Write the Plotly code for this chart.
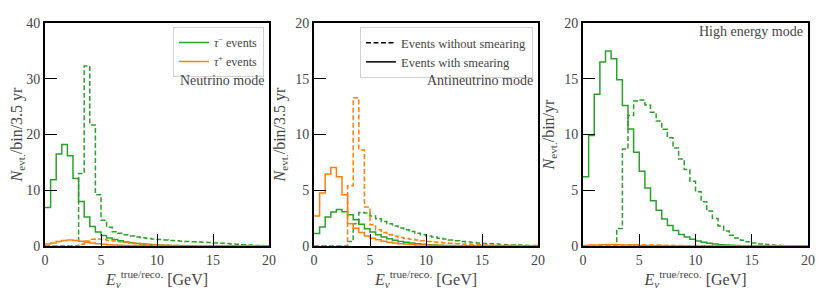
import numpy as np
import plotly.graph_objects as go

# ---------------- data (0.5 GeV bins, 0 - 20 GeV) ----------------
BIN_WIDTH = 0.5
E_MIN, E_MAX = 0.0, 20.0

# Neutrino mode (N / bin / 3.5 yr)
taum_smear_nu = [6.9, 11.9, 16.5, 18.2, 16.2, 12.1, 8.0, 5.2, 3.5, 2.5,
                 1.9, 1.45, 1.15, 0.92, 0.72, 0.57, 0.45, 0.35, 0.27, 0.21,
                 0.16, 0.12, 0.09, 0.07, 0.05, 0.04, 0.03, 0.02, 0.02, 0.01,
                 0.01, 0.01, 0.0, 0.0, 0.0, 0.0, 0.0, 0.0, 0.0, 0.0]
taum_true_nu = [0.0, 0.0, 0.0, 0.0, 0.0, 0.0, 13.0, 32.3, 21.7, 9.2,
                4.6, 3.35, 2.57, 2.27, 2.0, 1.8, 1.62, 1.48, 1.36, 1.25,
                1.15, 1.06, 0.98, 0.92, 0.86, 0.8, 0.76, 0.72, 0.68, 0.62,
                0.56, 0.5, 0.43, 0.36, 0.3, 0.23, 0.17, 0.11, 0.07, 0.04]
taup_smear_nu = [0.35, 0.55, 0.8, 1.0, 1.08, 1.0, 0.85, 0.68, 0.52, 0.4,
                 0.3, 0.23, 0.17, 0.13, 0.1, 0.07, 0.05, 0.04, 0.03, 0.02,
                 0.02, 0.01, 0.01, 0.01, 0.0, 0.0, 0.0, 0.0, 0.0, 0.0,
                 0.0, 0.0, 0.0, 0.0, 0.0, 0.0, 0.0, 0.0, 0.0, 0.0]
taup_true_nu = [0.0, 0.0, 0.0, 0.0, 0.0, 0.0, 0.3, 0.9, 1.2, 1.25,
                1.15, 1.0, 0.88, 0.76, 0.65, 0.55, 0.46, 0.38, 0.31, 0.25,
                0.2, 0.16, 0.13, 0.1, 0.08, 0.06, 0.05, 0.04, 0.03, 0.02,
                0.02, 0.01, 0.01, 0.01, 0.0, 0.0, 0.0, 0.0, 0.0, 0.0]

# Antineutrino mode (N / bin / 3.5 yr)
taup_smear_anu = [2.7, 4.75, 6.45, 7.05, 6.2, 4.6, 2.0, 1.6, 1.2, 0.9,
                  0.7, 0.55, 0.43, 0.34, 0.27, 0.21, 0.17, 0.13, 0.1, 0.08,
                  0.06, 0.05, 0.04, 0.03, 0.02, 0.02, 0.01, 0.01, 0.01, 0.01,
                  0.0, 0.0, 0.0, 0.0, 0.0, 0.0, 0.0, 0.0, 0.0, 0.0]
taup_true_anu = [0.0, 0.0, 0.0, 0.0, 0.0, 0.0, 5.4, 13.3, 8.6, 3.5,
                 1.9, 1.45, 1.2, 1.0, 0.88, 0.77, 0.68, 0.6, 0.53, 0.47,
                 0.41, 0.36, 0.32, 0.28, 0.24, 0.21, 0.18, 0.15, 0.13, 0.11,
                 0.09, 0.07, 0.06, 0.05, 0.04, 0.03, 0.02, 0.02, 0.01, 0.01]
taum_smear_anu = [1.13, 1.7, 2.6, 3.05, 3.27, 3.07, 2.8, 2.35, 1.95, 1.55,
                  1.25, 1.0, 0.8, 0.64, 0.51, 0.41, 0.33, 0.26, 0.2, 0.16,
                  0.12, 0.09, 0.07, 0.05, 0.04, 0.03, 0.02, 0.02, 0.01, 0.01,
                  0.0, 0.0, 0.0, 0.0, 0.0, 0.0, 0.0, 0.0, 0.0, 0.0]
taum_true_anu = [0.0, 0.0, 0.0, 0.0, 0.0, 0.0, 0.4, 2.0, 3.0, 2.95,
                 2.7, 2.45, 2.2, 2.0, 1.8, 1.62, 1.45, 1.3, 1.15, 1.02,
                 0.9, 0.8, 0.7, 0.62, 0.54, 0.47, 0.41, 0.36, 0.31, 0.27,
                 0.23, 0.2, 0.17, 0.14, 0.12, 0.1, 0.08, 0.06, 0.05, 0.04]

# High energy mode (N / bin / yr)
taum_smear_he = [6.2, 9.9, 13.6, 16.5, 17.5, 16.8, 14.9, 12.6, 10.5, 8.4,
                 6.7, 5.2, 4.05, 3.2, 2.43, 1.83, 1.4, 1.03, 0.8, 0.6,
                 0.45, 0.33, 0.24, 0.17, 0.12, 0.08, 0.06, 0.04, 0.03, 0.02,
                 0.01, 0.01, 0.0, 0.0, 0.0, 0.0, 0.0, 0.0, 0.0, 0.0]
taum_true_he = [0.0, 0.0, 0.0, 0.0, 0.0, 0.0, 1.58, 8.7, 11.7, 13.0,
                13.1, 12.65, 12.0, 11.2, 10.47, 9.7, 8.8, 7.8, 6.85, 5.8,
                4.87, 3.97, 3.13, 2.47, 1.79, 1.34, 0.97, 0.72, 0.52, 0.38,
                0.27, 0.19, 0.13, 0.09, 0.06, 0.04, 0.03, 0.02, 0.01, 0.01]
taup_smear_he = [0.05, 0.08, 0.1, 0.12, 0.13, 0.13, 0.12, 0.1, 0.08, 0.06,
                 0.05, 0.04, 0.03, 0.02, 0.02, 0.01, 0.0, 0.0, 0.0, 0.0,
                 0.0, 0.0, 0.0, 0.0, 0.0, 0.0, 0.0, 0.0, 0.0, 0.0,
                 0.0, 0.0, 0.0, 0.0, 0.0, 0.0, 0.0, 0.0, 0.0, 0.0]
taup_true_he = [0.0, 0.0, 0.0, 0.0, 0.0, 0.0, 0.02, 0.08, 0.1, 0.11,
                0.11, 0.1, 0.09, 0.08, 0.07, 0.06, 0.05, 0.04, 0.03, 0.02,
                0.02, 0.01, 0.01, 0.0, 0.0, 0.0, 0.0, 0.0, 0.0, 0.0,
                0.0, 0.0, 0.0, 0.0, 0.0, 0.0, 0.0, 0.0, 0.0, 0.0]

panel_titles = ["Neutrino mode", "Antineutrino mode", "High energy mode"]
y_titles = ["<i>N</i><sub>evt.</sub>/bin/3.5 yr",
            "<i>N</i><sub>evt.</sub>/bin/3.5 yr",
            "<i>N</i><sub>evt.</sub>/bin/yr"]
y_max = [40, 20, 20]
y_dtick = [10, 5, 5]
x_title = "<i>E</i><sub><i>ν</i></sub><sup>true/reco.</sup> [GeV]"

GREEN = "#2ca02c"
ORANGE = "#ff7f0e"
DASH = "5px,2.5px"
LW = 1.5
FONT = "Liberation Serif, DejaVu Serif, serif"
TXT = "#444444"

edges = np.arange(E_MIN, E_MAX + BIN_WIDTH / 2, BIN_WIDTH)


def step_y(vals):
    return list(vals) + [vals[-1]]


fig = go.Figure()

panels = [
    (taum_smear_nu, taum_true_nu, taup_smear_nu, taup_true_nu),
    (taum_smear_anu, taum_true_anu, taup_smear_anu, taup_true_anu),
    (taum_smear_he, taum_true_he, taup_smear_he, taup_true_he),
]

for i, (gm_s, gm_t, op_s, op_t) in enumerate(panels):
    xa = "x" if i == 0 else f"x{i+1}"
    ya = "y" if i == 0 else f"y{i+1}"
    fig.add_trace(go.Scatter(x=edges, y=step_y(gm_t), mode="lines", line_shape="hv",
                             line=dict(color=GREEN, width=LW, dash=DASH),
                             xaxis=xa, yaxis=ya, showlegend=False, hoverinfo="skip"))
    fig.add_trace(go.Scatter(x=edges, y=step_y(gm_s), mode="lines", line_shape="hv",
                             line=dict(color=GREEN, width=LW),
                             xaxis=xa, yaxis=ya, name="<i>τ</i><sup>−</sup> events",
                             showlegend=(i == 0), legend="legend", hoverinfo="skip"))
    fig.add_trace(go.Scatter(x=edges, y=step_y(op_t), mode="lines", line_shape="hv",
                             line=dict(color=ORANGE, width=LW, dash=DASH),
                             xaxis=xa, yaxis=ya, showlegend=False, hoverinfo="skip"))
    fig.add_trace(go.Scatter(x=edges, y=step_y(op_s), mode="lines", line_shape="hv",
                             line=dict(color=ORANGE, width=LW),
                             xaxis=xa, yaxis=ya, name="<i>τ</i><sup>+</sup> events",
                             showlegend=(i == 0), legend="legend", hoverinfo="skip"))

# legend-only entries for panel 2
fig.add_trace(go.Scatter(x=[None], y=[None], mode="lines",
                         line=dict(color="black", width=LW, dash=DASH),
                         name="Events without smearing", xaxis="x2", yaxis="y2",
                         legend="legend2"))
fig.add_trace(go.Scatter(x=[None], y=[None], mode="lines",
                         line=dict(color="black", width=LW),
                         name="Events with smearing", xaxis="x2", yaxis="y2",
                         legend="legend2"))

# page has an 8px body margin: figure size & positions compensate for it
OFF = 8
W, H = 830 - OFF, 292 - OFF


def px(xp):
    return (xp - OFF) / W


def py(yp):
    return 1 - (yp - OFF) / H


x_doms = [(45, 269), (314, 538), (583, 808)]
y_dom = (py(246), py(23))

axis_common = dict(showline=True, linecolor="black", linewidth=2, mirror=True,
                   ticks="inside", ticklen=12, tickwidth=1.4, tickcolor="black",
                   showgrid=False, zeroline=False, automargin=False,
                   tickfont=dict(family=FONT, size=14, color=TXT))

layout = dict(width=W, height=H, margin=dict(l=0, r=0, t=0, b=0, autoexpand=False),
              paper_bgcolor="white", plot_bgcolor="white",
              font=dict(family=FONT, color=TXT, size=13))

for i in range(3):
    xk = "xaxis" if i == 0 else f"xaxis{i+1}"
    yk = "yaxis" if i == 0 else f"yaxis{i+1}"
    xa = "x" if i == 0 else f"x{i+1}"
    ya = "y" if i == 0 else f"y{i+1}"
    layout[xk] = dict(axis_common, domain=[px(x_doms[i][0]), px(x_doms[i][1])],
                      range=[E_MIN, E_MAX], tickvals=[0, 5, 10, 15, 20],
                      anchor=ya,
                      title=dict(text=x_title, standoff=2,
                                 font=dict(family=FONT, size=16, color=TXT)))
    layout[yk] = dict(axis_common, domain=list(y_dom), range=[0, y_max[i]],
                      dtick=y_dtick[i], anchor=xa,
                      title=dict(text=y_titles[i], standoff=6,
                                 font=dict(family=FONT, size=16, color=TXT)))

layout["legend"] = dict(x=px(264), y=py(27), xanchor="right", yanchor="top",
                        bgcolor="white", bordercolor="#d0d0d0", borderwidth=1,
                        font=dict(family=FONT, size=12, color=TXT),
                        tracegroupgap=0, itemwidth=30)
layout["legend2"] = dict(x=px(533), y=py(27), xanchor="right", yanchor="top",
                         bgcolor="white", bordercolor="#d0d0d0", borderwidth=1,
                         font=dict(family=FONT, size=12.5, color=TXT),
                         tracegroupgap=0, itemwidth=30)

fig.update_layout(**layout)

ann_pos = [(266, 80), (535, 80), (805, 31)]
for i, txt in enumerate(panel_titles):
    fig.add_annotation(text=txt, x=px(ann_pos[i][0]), y=py(ann_pos[i][1]),
                       xref="paper", yref="paper", xanchor="right", yanchor="middle",
                       showarrow=False, font=dict(family=FONT, size=14, color=TXT))

fig.write_html("out.html")
